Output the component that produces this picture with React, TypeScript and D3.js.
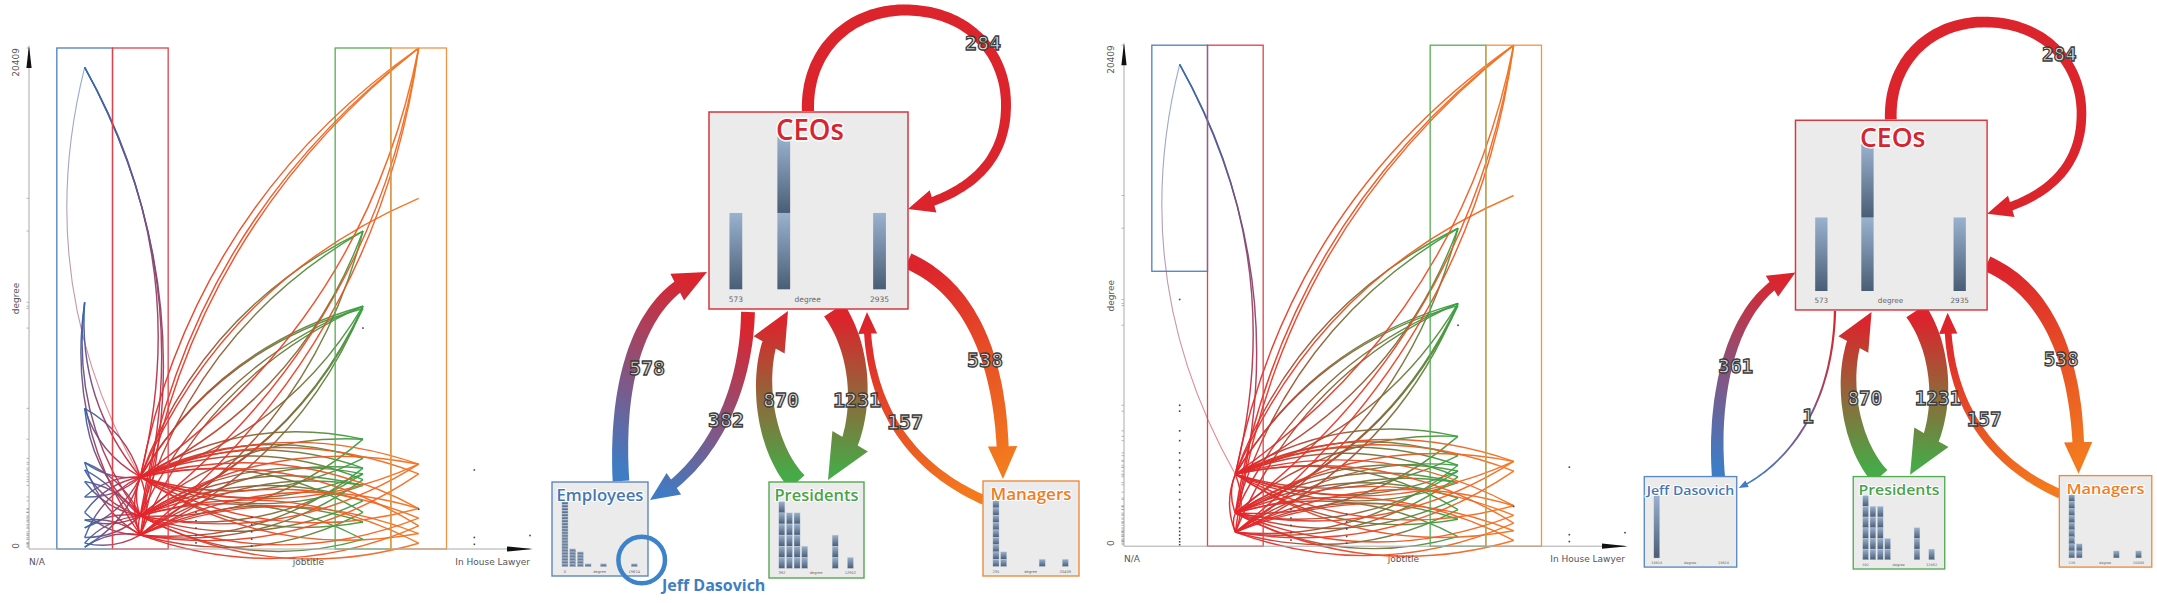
import * as d3 from 'd3';

type Pt = [number, number];
type Seg = [Pt, Pt, Pt, Pt];
type Pair = [number, number];
type Edge = { c0: number; d0: number; c1: number; d1: number; faint?: boolean };

// ---------- degree x jobtitle plot ----------
const xTickLabels = ['N/A', 'jobtitle', 'In House Lawyer'];
const yTickLabels = ['0', '20409'];
const yAxisTitle = 'degree';
const degreeMax = 20409;
const jobColumnCount = 10;

const BLUE = 1;
const RED = 2;
const GREEN = 6;
const ORANGE = 7;
const boxedColumns = [BLUE, RED, GREEN, ORANGE];
const columnColors: Record<number, string> = { 1: '#3468b0', 2: '#e3232a', 6: '#3aa243', 7: '#f5741f' };
const boxStroke: Record<number, string> = { 1: '#4d7ec0', 2: '#e0414a', 6: '#56ad56', 7: '#f39444' };

// [source degree, target degree]
const blueToRed: Pair[] = [
  [19624, 1350], [19624, 2935], [19624, 573], [5730, 2935], [3530, 1350], [2750, 1350],
  [2120, 2935], [1490, 2935], [860, 1350], [470, 2935], [240, 1350], [80, 573], [3220, 573], [1180, 573],
];
const redToBlue: Pair[] = [
  [2935, 10050], [1350, 10050], [573, 10050], [2935, 5730], [1350, 5730], [2935, 3530], [573, 3530],
  [1350, 2750], [2935, 2120], [573, 1490], [1350, 1180], [2935, 860], [1350, 470], [573, 240],
  [2935, 80], [1350, 3220],
];
const redToTopBlueFaint: Pair[] = [[2935, 19624]];
const jeffToRed: Pair[] = [[19624, 1350], [19624, 2935]];
const redToRed: Pair[] = [[2935, 573], [573, 2935], [1350, 2935], [573, 1350]];
const redToGreen: Pair[] = [
  [2935, 12952], [1350, 12952], [2935, 9891], [2935, 9800], [1350, 9891], [573, 9891], [2935, 4474],
  [1350, 4474], [2935, 3690], [573, 3297], [1350, 3061], [2935, 2826], [573, 2590], [1350, 1962],
  [2935, 1491], [573, 1099], [1350, 392], [2935, 3297], [1350, 2590],
];
const greenToRed: Pair[] = [
  [12952, 2935], [12952, 573], [9891, 2935], [9891, 1350], [9891, 573], [9800, 1350], [4474, 1350],
  [3690, 2935], [3297, 573], [3061, 1350], [2826, 573], [2590, 2935], [1962, 1350], [1491, 573],
  [1099, 2935], [392, 1350], [3061, 2935],
];
const redToOrange: Pair[] = [
  [2935, 20409], [1350, 20409], [573, 20409], [2935, 14286], [2935, 3454], [1350, 3454], [2935, 3061],
  [573, 1648], [1350, 1256], [2935, 942], [573, 628], [1350, 235], [2935, 1648],
];
const orangeToRed: Pair[] = [
  [20409, 2935], [20409, 1350], [20409, 573], [3454, 1350], [3061, 573], [1648, 2935], [1256, 1350],
  [942, 573], [628, 2935], [235, 1350], [3454, 2935],
];
// [column, degree] of nodes without drawn links
const looseDots: Pair[] = [
  [3, 1500], [3, 1150], [3, 850], [3, 550], [3, 250], [4, 1300], [4, 1000], [4, 700], [4, 400], [4, 120],
  [6, 9000], [7, 1620], [8, 3220], [8, 470], [8, 190], [9, 550],
];
const jeffViewBlueDots = [
  10050, 5740, 5500, 4700, 4300, 3800, 3500, 3200, 2900, 2500, 2200, 1900, 1600, 1350, 1150, 950,
  750, 600, 450, 300, 180, 60,
];
const jeffBoxFloor = 11200;

const mk = (c0: number, c1: number, list: Pair[], faint = false): Edge[] =>
  list.map(([a, b]) => ({ c0, d0: a, c1, d1: b, faint }));

const sharedEdges: Edge[] = [
  ...mk(RED, RED, redToRed),
  ...mk(RED, GREEN, redToGreen),
  ...mk(GREEN, RED, greenToRed),
  ...mk(RED, ORANGE, redToOrange),
  ...mk(ORANGE, RED, orangeToRed),
];
const leftEdges: Edge[] = [
  ...mk(RED, BLUE, redToTopBlueFaint, true),
  ...mk(RED, BLUE, redToBlue),
  ...mk(BLUE, RED, blueToRed),
  ...sharedEdges,
];
const rightEdges: Edge[] = [
  ...mk(RED, BLUE, redToTopBlueFaint, true),
  ...mk(BLUE, RED, jeffToRed),
  ...sharedEdges,
];
const leftDots: Pair[] = looseDots;
const rightDots: Pair[] = [...looseDots, ...jeffViewBlueDots.map((d) => [BLUE, d] as Pair)];

function DegreePlot({ uid, dx, dy, edges, dots, blueFloor }: {
  uid: string; dx: number; dy: number; edges: Edge[]; dots: Pair[]; blueFloor?: number;
}) {
  const x = d3.scaleLinear().domain([0, jobColumnCount - 1]).range([29, 530]);
  const y = d3.scaleLinear().domain([0, degreeMax]).range([549, 48]);
  const half = (x(1) - x(0)) / 2;
  const bend = 0.2;
  const lines = edges.map((e) => {
    const x0 = x(e.c0), y0 = y(e.d0), x1 = x(e.c1), y1 = y(e.d1);
    const p = d3.path();
    p.moveTo(x0, y0);
    p.quadraticCurveTo((x0 + x1) / 2 + bend * (y1 - y0), (y0 + y1) / 2 - bend * (x1 - x0), x1, y1);
    return { d: p.toString(), x0, y0, x1, y1, a: columnColors[e.c0], b: columnColors[e.c1], faint: e.faint };
  });
  const tickDegrees = Array.from(new Set([
    ...edges.flatMap((e) => [e.d0, e.d1]),
    ...dots.map((d) => d[1]),
  ]));
  return (
    <g transform={`translate(${dx},${dy})`}>
      <defs>
        {lines.map((l, i) => (
          <linearGradient key={i} id={`${uid}-e${i}`} gradientUnits="userSpaceOnUse"
            x1={l.x0} y1={l.y0} x2={l.x1 + (l.x1 === l.x0 ? 0.01 : 0)} y2={l.y1}>
            <stop offset="0" stopColor={l.a} />
            <stop offset="1" stopColor={l.b} />
          </linearGradient>
        ))}
      </defs>
      {lines.map((l, i) => (
        <path key={i} d={l.d} fill="none" stroke={`url(#${uid}-e${i})`}
          strokeWidth={l.faint ? 1.1 : 1.45} opacity={l.faint ? 0.55 : 0.95} />
      ))}
      {boxedColumns.map((c) => {
        const bottom = c === BLUE && blueFloor ? y(blueFloor) : y(0);
        return (
          <rect key={c} x={x(c) - half} y={y(degreeMax)} width={half * 2} height={bottom - y(degreeMax)}
            fill="none" stroke={boxStroke[c]} strokeWidth={1.3} />
        );
      })}
      {dots.map(([c, d], i) => (
        <rect key={i} x={x(c) - 0.8} y={y(d) - 0.8} width={1.6} height={1.6} fill="#444" />
      ))}
      {tickDegrees.map((d, i) => (
        <line key={i} x1={x(0) - 2.5} x2={x(0)} y1={y(d)} y2={y(d)} stroke="#888" strokeWidth={0.6} />
      ))}
      <line x1={x(0)} x2={x(0)} y1={y(0)} y2={y(degreeMax)} stroke="#aaa" strokeWidth={1} />
      <line x1={x(0)} x2={x(jobColumnCount - 1)} y1={y(0)} y2={y(0)} stroke="#aaa" strokeWidth={1} />
      <polygon points={`${x(0)},${y(degreeMax) - 3} ${x(0) - 2.6},${y(degreeMax) + 20} ${x(0) + 2.6},${y(degreeMax) + 20}`} fill="#111" />
      <polygon points={`${x(jobColumnCount - 1) + 3},${y(0)} ${x(jobColumnCount - 1) - 23},${y(0) - 2.6} ${x(jobColumnCount - 1) - 23},${y(0) + 2.6}`} fill="#111" />
      <g fontFamily="DejaVu Sans" fontSize={9} fill="#555">
        <text x={x(0)} y={y(0) + 16}>{xTickLabels[0]}</text>
        <text x={(x(0) + x(jobColumnCount - 1)) / 2 + 29} y={y(0) + 16} textAnchor="middle">{xTickLabels[1]}</text>
        <text x={x(jobColumnCount - 1)} y={y(0) + 16} textAnchor="end">{xTickLabels[2]}</text>
        <text transform={`translate(19,${y(0) - 3}) rotate(-90)`} textAnchor="middle">{yTickLabels[0]}</text>
        <text transform={`translate(19,${y(degreeMax)}) rotate(-90)`} textAnchor="end">{yTickLabels[1]}</text>
        <text transform={`translate(19,${(y(0) + y(degreeMax)) / 2}) rotate(-90)`} textAnchor="middle">{yAxisTitle}</text>
      </g>
    </g>
  );
}

// ---------- aggregated flow diagram ----------
const flowFrom = ['CEOs', 'Employees', 'CEOs', 'Presidents', 'CEOs', 'Managers', 'CEOs'];
const flowTo = ['CEOs', 'CEOs', 'Employees', 'CEOs', 'Presidents', 'CEOs', 'Managers'];
const flowCounts = [284, 578, 382, 870, 1231, 157, 538];
const jeffFlowCounts = [284, 361, 1, 870, 1231, 157, 538];

const groupColor: Record<string, string> = {
  CEOs: '#dc242c', Employees: '#3f7cc4', Presidents: '#46aa48', Managers: '#f37b1e',
};
const groupTitleColor: Record<string, string> = {
  CEOs: '#d6252e', Employees: '#4677b2', Presidents: '#4aa24a', Managers: '#ef7d25',
};
const groupBorder: Record<string, string> = {
  CEOs: '#d8363e', Employees: '#5a88c2', Presidents: '#52aa52', Managers: '#f08a3c',
};

const ceoHistBins = [0, 3, 9];
const ceoHistCounts = [1, 2, 1];
const ceoHistRange = ['573', '2935'];
const employeeHistBins = [0, 1, 2, 3, 5, 9];
const employeeHistCounts = [22, 6, 5, 1, 1, 1];
const employeeHistRange = ['0', '19624'];
const presidentHistBins = [0, 1, 2, 3, 7, 9];
const presidentHistCounts = [6, 5, 5, 2, 3, 1];
const presidentHistRange = ['392', '12952'];
const managerHistBins = [0, 1, 6, 9];
const managerHistCounts = [9, 2, 1, 1];
const managerHistRange = ['235', '20409'];
const jeffHistBins = [0];
const jeffHistCounts = [1];
const jeffHistRange = ['19624', '19624'];
const histAxisTitle = 'degree';
const selectedName = 'Jeff Dasovich';

const boxLayout: Record<string, { x: number; y: number; w: number; h: number }> = {
  CEOs: { x: 709, y: 112, w: 199, h: 197 },
  Employees: { x: 552, y: 482, w: 96, h: 94 },
  Presidents: { x: 769, y: 482, w: 95, h: 96 },
  Managers: { x: 983, y: 481, w: 96, h: 95 },
};
const titleLength: Record<string, number> = {
  CEOs: 68, Employees: 87, Presidents: 84, Managers: 81, 'Jeff Dasovich': 91,
};

// arrow course per flow (same order as flowFrom)
const flowPaths: Seg[][] = [
  [
    [[808, 111], [806, 50], [850, 10], [905, 10]],
    [[905, 10], [965, 10], [1006, 50], [1006, 105]],
    [[1006, 105], [1006, 165], [965, 195], [908, 209]],
  ],
  [[[621, 481], [615, 380], [640, 292], [707, 272]]],
  [[[748, 312], [746, 400], [705, 470], [650, 500]]],
  [[[797, 482], [758, 440], [752, 345], [788, 311]]],
  [[[834, 310], [868, 360], [865, 440], [828, 480]]],
  [[[984, 500], [915, 470], [866, 410], [867, 312]]],
  [[[908, 261], [975, 290], [1005, 370], [1003, 479]]],
];
const jeffFlowPaths: Record<number, Seg[]> = {
  1: [[[629, 482], [622, 390], [645, 295], [709, 270]]],
  2: [[[750, 310], [748, 410], [700, 470], [650, 494]]],
};
const flowLabelAt: Pt[] = [[983, 43], [647, 368], [726, 420], [781, 400], [857, 400], [905, 422], [985, 360]];
const jeffLabelAt: Record<number, Pt> = { 1: [647, 367], 2: [722, 419] };

const cubicAt = (s: Seg, t: number): Pt => {
  const m = 1 - t;
  const a = m * m * m, b = 3 * m * m * t, c = 3 * m * t * t, d = t * t * t;
  return [
    a * s[0][0] + b * s[1][0] + c * s[2][0] + d * s[3][0],
    a * s[0][1] + b * s[1][1] + c * s[2][1] + d * s[3][1],
  ];
};

function arrowShape(segs: Seg[], w: number): string {
  const pts: Pt[] = [];
  segs.forEach((s, k) => {
    for (let i = k === 0 ? 0 : 1; i <= 48; i++) pts.push(cubicAt(s, i / 48));
  });
  const cum = [0];
  for (let i = 1; i < pts.length; i++) {
    cum.push(cum[i - 1] + Math.hypot(pts[i][0] - pts[i - 1][0], pts[i][1] - pts[i - 1][1]));
  }
  const total = cum[cum.length - 1];
  const headLen = Math.min(1.9 * w + 6, total * 0.4);
  const headW = 1.8 * w + 4;
  const bodyLen = total - headLen;
  const w0 = 1.15 * w, w1 = 0.85 * w;
  const normal = (i: number): Pt => {
    const a = pts[Math.max(i - 1, 0)], b = pts[Math.min(i + 1, pts.length - 1)];
    const tx = b[0] - a[0], ty = b[1] - a[1];
    const L = Math.hypot(tx, ty) || 1;
    return [-ty / L, tx / L];
  };
  const left: Pt[] = [], right: Pt[] = [];
  let i = 0;
  for (; i < pts.length && cum[i] < bodyLen; i++) {
    const n = normal(i);
    const hw = (w0 + (w1 - w0) * (cum[i] / bodyLen)) / 2;
    left.push([pts[i][0] + n[0] * hw, pts[i][1] + n[1] * hw]);
    right.push([pts[i][0] - n[0] * hw, pts[i][1] - n[1] * hw]);
  }
  const j = Math.max(i, 1);
  const f = (bodyLen - cum[j - 1]) / (cum[j] - cum[j - 1] || 1);
  const base: Pt = [
    pts[j - 1][0] + f * (pts[j][0] - pts[j - 1][0]),
    pts[j - 1][1] + f * (pts[j][1] - pts[j - 1][1]),
  ];
  const tip = pts[pts.length - 1];
  const dl = Math.hypot(tip[0] - base[0], tip[1] - base[1]) || 1;
  const n: Pt = [-(tip[1] - base[1]) / dl, (tip[0] - base[0]) / dl];
  const poly: Pt[] = [
    ...left,
    [base[0] + (n[0] * w1) / 2, base[1] + (n[1] * w1) / 2],
    [base[0] + (n[0] * headW) / 2, base[1] + (n[1] * headW) / 2],
    tip,
    [base[0] - (n[0] * headW) / 2, base[1] - (n[1] * headW) / 2],
    [base[0] - (n[0] * w1) / 2, base[1] - (n[1] * w1) / 2],
    ...right.reverse(),
  ];
  return 'M' + poly.map((p) => p[0].toFixed(1) + ',' + p[1].toFixed(1)).join('L') + 'Z';
}

function Histogram({ uid, box, bins, counts, range, big }: {
  uid: string; box: { x: number; y: number; w: number; h: number };
  bins: number[]; counts: number[]; range: string[]; big: boolean;
}) {
  const bx = d3.scaleLinear().domain([0, 9]).range([box.x + 0.135 * box.w, box.x + 0.857 * box.w]);
  const bw = (bx(1) - bx(0)) * 0.8;
  const base = box.y + 0.9 * box.h;
  const top = box.y + (big ? 0.125 : 0.205) * box.h;
  const unit = (base - top) / (d3.max(counts) ?? 1);
  const ly = box.y + 0.95 * box.h;
  const fs = big ? 7.5 : 3.6;
  return (
    <g>
      {bins.map((b, i) =>
        d3.range(counts[i]).map((k) => (
          <rect key={`${i}-${k}`} x={bx(b) - bw / 2} y={base - (k + 1) * unit} width={bw} height={unit}
            fill={`url(#${uid}-bar)`} stroke="#d3dbe4" strokeWidth={big ? 0 : 0.35} />
        )),
      )}
      <g fontFamily="DejaVu Sans" fontSize={fs} fill="#666" textAnchor="middle">
        <text x={bx(0)} y={ly + fs * 0.35}>{range[0]}</text>
        <text x={(bx(0) + bx(9)) / 2} y={ly + fs * 0.35}>{histAxisTitle}</text>
        <text x={bx(9)} y={ly + fs * 0.35}>{range[1]}</text>
      </g>
    </g>
  );
}

function FlowPanel({ uid, transform, jeff }: { uid: string; transform?: string; jeff: boolean }) {
  const counts = jeff ? jeffFlowCounts : flowCounts;
  const width = d3.scaleSqrt().domain([0, 1231]).range([1.5, 20.5]);
  const hist: Record<string, [number[], number[], string[]]> = {
    CEOs: [ceoHistBins, ceoHistCounts, ceoHistRange],
    Employees: jeff ? [jeffHistBins, jeffHistCounts, jeffHistRange] : [employeeHistBins, employeeHistCounts, employeeHistRange],
    Presidents: [presidentHistBins, presidentHistCounts, presidentHistRange],
    Managers: [managerHistBins, managerHistCounts, managerHistRange],
  };
  const arrows = flowCounts.map((_, i) => {
    const segs = (jeff && jeffFlowPaths[i]) || flowPaths[i];
    const start = segs[0][0];
    const tip = segs[segs.length - 1][3];
    const label = (jeff && jeffLabelAt[i]) || flowLabelAt[i];
    return { segs, start, tip, label, value: counts[i], a: groupColor[flowFrom[i]], b: groupColor[flowTo[i]] };
  });
  return (
    <g transform={transform}>
      <defs>
        <linearGradient id={`${uid}-bar`} x1="0" y1="0" x2="0" y2="1">
          <stop offset="0" stopColor="#9ab2cf" />
          <stop offset="1" stopColor="#4a5d76" />
        </linearGradient>
        {arrows.map((a, i) => (
          <linearGradient key={i} id={`${uid}-a${i}`} gradientUnits="userSpaceOnUse"
            x1={a.start[0]} y1={a.start[1]} x2={a.tip[0]} y2={a.tip[1]}>
            <stop offset="0.05" stopColor={a.a} />
            <stop offset="0.95" stopColor={a.b} />
          </linearGradient>
        ))}
      </defs>
      {arrows.map((a, i) => (
        <path key={i} d={arrowShape(a.segs, width(a.value))} fill={`url(#${uid}-a${i})`} />
      ))}
      {Object.keys(boxLayout).map((g) => {
        const b = boxLayout[g];
        const big = g === 'CEOs';
        const name = jeff && g === 'Employees' ? selectedName : g;
        const [bins, cnt, rng] = hist[g];
        return (
          <g key={g}>
            <rect x={b.x} y={b.y} width={b.w} height={b.h} fill="#ebebeb" stroke={groupBorder[g]}
              strokeWidth={big ? 1.5 : 1.4} />
            <Histogram uid={uid} box={b} bins={bins} counts={cnt} range={rng} big={big} />
            <text x={b.x + b.w / 2 + (big ? 1.5 : 0)} y={b.y + (big ? 28 : 19)} textAnchor="middle"
              fontFamily="Open Sans" fontWeight={600} fontSize={big ? 28 : name.length > 10 ? 13.5 : 15.5}
              textLength={titleLength[name]} lengthAdjust="spacingAndGlyphs"
              fill={groupTitleColor[g]} stroke="#fff" strokeWidth={big ? 3 : 2.2} paintOrder="stroke"
              strokeLinejoin="round">
              {name}
            </text>
          </g>
        );
      })}
      {!jeff && (
        <g>
          <circle cx={641.7} cy={560} r={23.3} fill="none" stroke="#3d83c9" strokeWidth={4.5} />
          <text x={662} y={591} fontFamily="Open Sans" fontWeight={700} fontSize={16} fill="#3e7ec2"
            stroke="#fff" strokeWidth={2} paintOrder="stroke">
            {selectedName}
          </text>
        </g>
      )}
      {arrows.map((a, i) => (
        <text key={i} x={a.label[0]} y={a.label[1]} dy="0.36em" textAnchor="middle"
          fontFamily="DejaVu Sans Mono" fontWeight="bold" fontSize={20} fill="#dadada"
          stroke="#3c3c3c" strokeWidth={1.3}>
          {a.value}
        </text>
      ))}
    </g>
  );
}

export default function App() {
  return (
    <svg width={2157} height={603} viewBox="0 0 2157 603"
      style={{ position: 'absolute', left: 0, top: 0, display: 'block', background: '#fff' }}>
      <rect width={2157} height={603} fill="#fff" />
      <DegreePlot uid="dpl" dx={0} dy={0} edges={leftEdges} dots={leftDots} />
      <FlowPanel uid="fpl" jeff={false} />
      <DegreePlot uid="dpr" dx={1095} dy={-2.8} edges={rightEdges} dots={rightDots} blueFloor={jeffBoxFloor} />
      <FlowPanel uid="fpr" transform="translate(1112.7,12.4) scale(0.963)" jeff={true} />
    </svg>
  );
}
